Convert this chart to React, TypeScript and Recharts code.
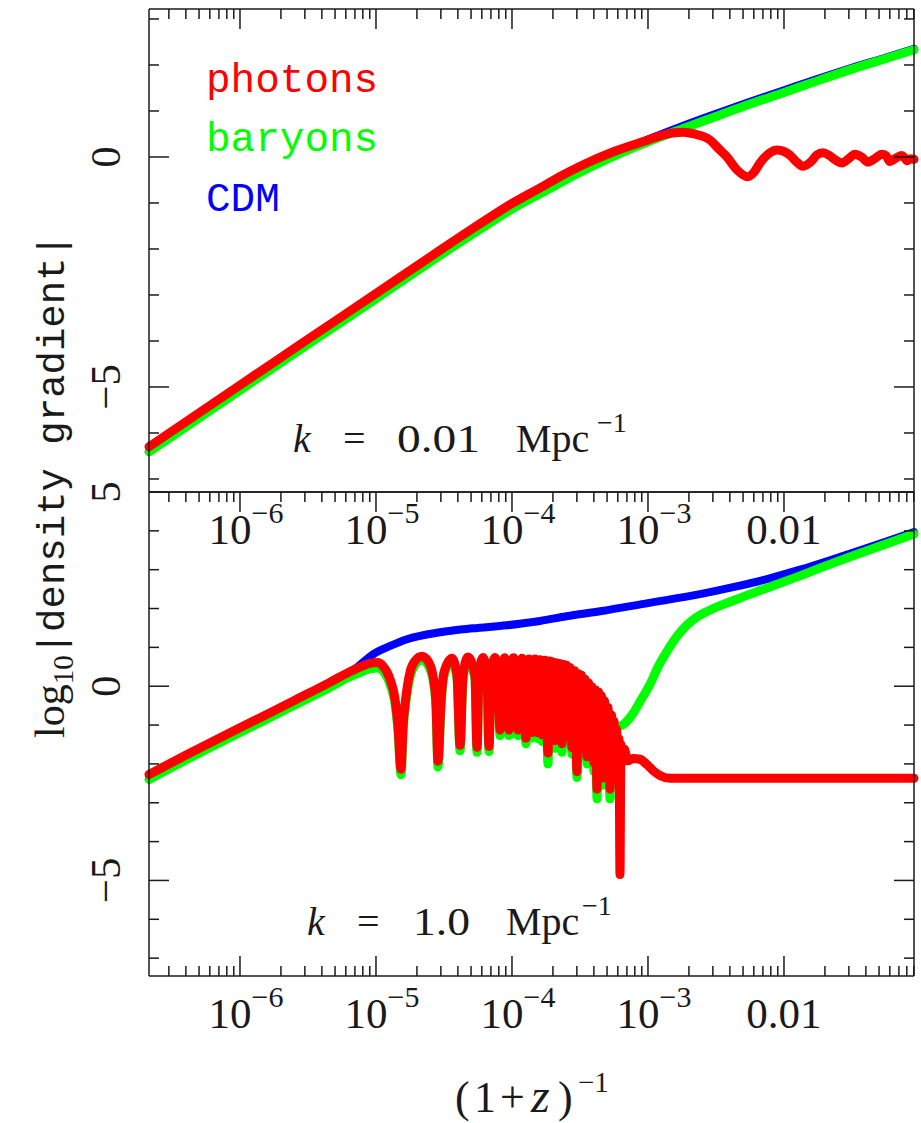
import { LineChart, Line, XAxis, YAxis } from "recharts"

const W = 921
const H = 1123
const PLOT_LEFT = 149
const PLOT_RIGHT = 914
// axes need a non-zero band to be drawn; keep it at one pixel
const BAND = 1

const RED = "#ff0000"
const GREEN = "#00ff00"
const BLUE = "#0000ff"
const INK = "#1a1a1a"
const SERIF = "'Liberation Serif', 'DejaVu Serif', serif"
const MONO = "'Liberation Mono', 'DejaVu Sans Mono', monospace"

// x is log10 of the scale factor a = (1+z)^-1
const xDomain = [-6.669, -1.044]
const xDecades = [-7, -6, -5, -4, -3, -2]
const topYDomain = [-7.283, 3.217]
const bottomYDomain = [-7.46, 5.0]
const topYTicks = [-7, -6, -5, -4, -3, -2, -1, 0, 1, 2, 3]
const bottomYTicks = [-7, -6, -5, -4, -3, -2, -1, 0, 1, 2, 3, 4, 5]
const topYLabels = [0, -5]
const bottomYLabels = [5, 0, -5]

// k = 0.01 Mpc^-1
const topPhotons: [number, number][] = [
  [-6.669, -6.3], [-6.0, -4.96], [-5.5, -3.96], [-5.0, -2.97], [-4.5, -1.97],
  [-4.25, -1.48], [-4.0, -1.01], [-3.75, -0.6], [-3.65, -0.43], [-3.5, -0.2],
  [-3.25, 0.12], [-3.0, 0.37], [-2.91, 0.46], [-2.82, 0.52], [-2.74, 0.54],
  [-2.66, 0.5], [-2.544, 0.37], [-2.48, 0.18], [-2.419, 0.0], [-2.346, -0.28],
  [-2.265, -0.43], [-2.22, -0.33], [-2.176, -0.13], [-2.103, 0.09], [-2.051, 0.15],
  [-2.0, 0.12], [-1.956, 0.04], [-1.91, -0.1], [-1.86, -0.2], [-1.8, -0.1],
  [-1.76, 0.04], [-1.713, 0.09], [-1.67, 0.04], [-1.62, -0.07], [-1.574, -0.13],
  [-1.525, -0.04], [-1.478, 0.06], [-1.43, 0.0], [-1.382, -0.11], [-1.33, -0.03],
  [-1.279, 0.06], [-1.25, 0.03], [-1.221, -0.1], [-1.18, -0.03], [-1.132, 0.03],
  [-1.11, -0.03], [-1.096, -0.08], [-1.07, -0.04], [-1.044, -0.05],
]
const topBaryons: [number, number][] = [
  [-6.669, -6.41], [-6.0, -5.07], [-5.5, -4.07], [-5.0, -3.08], [-4.5, -2.08],
  [-4.25, -1.6], [-4.0, -1.13], [-3.75, -0.73], [-3.5, -0.33], [-3.25, 0.02],
  [-3.0, 0.33], [-2.75, 0.61], [-2.5, 0.88], [-2.25, 1.15], [-2.0, 1.4],
  [-1.75, 1.66], [-1.5, 1.91], [-1.25, 2.14], [-1.044, 2.33],
]
const topCdm: [number, number][] = [
  [-6.669, -6.41], [-6.0, -5.07], [-5.5, -4.07], [-5.0, -3.08], [-4.5, -2.08],
  [-4.25, -1.6], [-4.0, -1.13], [-3.75, -0.72], [-3.5, -0.31], [-3.25, 0.05],
  [-3.0, 0.38], [-2.75, 0.67], [-2.5, 0.94], [-2.25, 1.2], [-2.0, 1.45],
  [-1.75, 1.7], [-1.5, 1.94], [-1.25, 2.16], [-1.044, 2.35],
]

// k = 1.0 Mpc^-1
const bottomPhotons: [number, number][] = [
  [-6.669, -2.27], [-6.4, -1.78], [-6.07, -1.19], [-5.8, -0.72], [-5.58, -0.33],
  [-5.35, 0.08], [-5.2, 0.36], [-5.1, 0.52], [-5.044, 0.59], [-4.99, 0.61],
  [-4.949, 0.52], [-4.897, 0.18], [-4.86, -0.33], [-4.838, -1.03], [-4.816, -2.14],
  [-4.801, -1.03], [-4.779, -0.25], [-4.75, 0.36], [-4.713, 0.65], [-4.662, 0.77],
  [-4.618, 0.65], [-4.581, 0.27], [-4.559, -0.42], [-4.544, -1.93], [-4.522, -0.42],
  [-4.5, 0.36], [-4.441, 0.72], [-4.404, 0.27], [-4.382, -1.52], [-4.36, 0.27],
  [-4.324, 0.75], [-4.272, 0.27], [-4.257, -1.57], [-4.243, 0.27], [-4.213, 0.74],
  [-4.184, 0.27], [-4.169, -1.55], [-4.154, 0.27], [-4.125, 0.74], [-4.103, 0.27],
  [-4.088, -1.13], [-4.074, 0.27], [-4.055, 0.73], [-4.037, 0.27], [-4.022, -1.13],
  [-4.007, 0.27], [-3.989, 0.73], [-3.971, 0.27], [-3.956, -1.13], [-3.941, 0.27],
  [-3.926, 0.72], [-3.897, -1.34], [-3.875, 0.7], [-3.853, -1.19], [-3.831, 0.7],
  [-3.809, -1.2], [-3.794, 0.68], [-3.779, -1.25], [-3.757, 0.67], [-3.735, -1.72],
  [-3.721, 0.65], [-3.706, -1.28], [-3.695, 0.62], [-3.684, -1.4], [-3.669, 0.6],
  [-3.654, -1.28], [-3.643, 0.58], [-3.632, -1.48], [-3.621, 0.56], [-3.61, -1.33],
  [-3.599, 0.54], [-3.588, -1.26], [-3.574, 0.48], [-3.559, -1.58], [-3.54, 0.4],
  [-3.522, -2.2], [-3.511, 0.32], [-3.5, -1.53], [-3.489, 0.28], [-3.478, -1.6],
  [-3.463, 0.18], [-3.449, -1.82], [-3.437, 0.08], [-3.426, -1.72], [-3.412, -0.02],
  [-3.397, -1.97], [-3.386, -0.1], [-3.375, -2.65], [-3.364, -0.15], [-3.353, -2.07],
  [-3.342, -0.25], [-3.331, -2.36], [-3.32, -0.38], [-3.309, -1.97], [-3.294, -0.55],
  [-3.279, -2.65], [-3.268, -0.75], [-3.257, -2.26], [-3.25, -0.9], [-3.243, -2.36],
  [-3.232, -1.1], [-3.221, -1.97], [-3.213, -1.35], [-3.206, -4.85], [-3.199, -1.5],
  [-3.191, -1.97], [-3.173, -1.62], [-3.15, -1.92], [-3.11, -1.86], [-3.06, -1.88],
  [-3.007, -2.02], [-2.96, -2.18], [-2.912, -2.3], [-2.838, -2.37], [-2.5, -2.37],
  [-2.0, -2.37], [-1.5, -2.37], [-1.044, -2.37],
]
const bottomBaryons: [number, number][] = [
  [-6.669, -2.4], [-6.4, -1.9], [-6.07, -1.31], [-5.8, -0.84], [-5.58, -0.45],
  [-5.35, -0.05], [-5.2, 0.23], [-5.1, 0.38], [-5.044, 0.45], [-4.99, 0.47],
  [-4.949, 0.39], [-4.897, 0.05], [-4.86, -0.45], [-4.838, -1.15], [-4.816, -2.28],
  [-4.801, -1.15], [-4.779, -0.37], [-4.75, 0.24], [-4.713, 0.55], [-4.662, 0.68],
  [-4.618, 0.55], [-4.581, 0.17], [-4.559, -0.52], [-4.544, -2.08], [-4.522, -0.52],
  [-4.5, 0.26], [-4.441, 0.64], [-4.404, 0.18], [-4.382, -1.66], [-4.36, 0.18],
  [-4.324, 0.66], [-4.272, 0.18], [-4.257, -1.7], [-4.243, 0.18], [-4.213, 0.65],
  [-4.184, 0.18], [-4.169, -1.68], [-4.154, 0.18], [-4.125, 0.65], [-4.103, 0.18],
  [-4.088, -1.27], [-4.074, 0.18], [-4.055, 0.64], [-4.037, 0.18], [-4.022, -1.27],
  [-4.007, 0.18], [-3.989, 0.64], [-3.971, 0.18], [-3.956, -1.27], [-3.941, 0.18],
  [-3.926, 0.64], [-3.897, -1.48], [-3.875, 0.62], [-3.853, -1.33], [-3.831, 0.62],
  [-3.809, -1.35], [-3.794, 0.6], [-3.779, -1.42], [-3.757, 0.59], [-3.735, -2.0],
  [-3.721, 0.57], [-3.706, -1.45], [-3.695, 0.54], [-3.684, -1.6], [-3.669, 0.52],
  [-3.654, -1.45], [-3.643, 0.5], [-3.632, -1.7], [-3.621, 0.48], [-3.61, -1.5],
  [-3.599, 0.46], [-3.588, -1.42], [-3.574, 0.4], [-3.559, -1.75], [-3.54, 0.32],
  [-3.522, -2.35], [-3.511, 0.24], [-3.5, -1.7], [-3.489, 0.2], [-3.478, -1.8],
  [-3.463, 0.1], [-3.449, -2.0], [-3.437, 0.0], [-3.426, -1.9], [-3.412, -0.1],
  [-3.397, -2.2], [-3.386, -0.18], [-3.375, -2.9], [-3.364, -0.23], [-3.353, -2.3],
  [-3.342, -0.33], [-3.331, -2.55], [-3.32, -0.46], [-3.309, -2.2], [-3.294, -0.63],
  [-3.279, -2.9], [-3.268, -0.9], [-3.257, -1.1], [-3.228, -1.06], [-3.169, -0.95],
  [-3.11, -0.7], [-3.051, -0.35], [-2.985, 0.05], [-2.926, 0.5], [-2.86, 0.9],
  [-2.801, 1.22], [-2.743, 1.47], [-2.68, 1.68], [-2.618, 1.83], [-2.55, 1.95],
  [-2.493, 2.04], [-2.375, 2.2], [-2.25, 2.37], [-2.125, 2.53], [-1.882, 2.84],
  [-1.64, 3.17], [-1.39, 3.49], [-1.044, 3.92],
]
const bottomCdm: [number, number][] = [
  [-6.669, -2.33], [-6.4, -1.84], [-6.07, -1.25], [-5.8, -0.77], [-5.58, -0.38],
  [-5.35, 0.03], [-5.2, 0.32], [-5.1, 0.6], [-5.022, 0.82], [-4.9, 1.03],
  [-4.772, 1.21], [-4.529, 1.39], [-4.287, 1.49], [-4.037, 1.57], [-3.794, 1.68],
  [-3.6, 1.8], [-3.353, 1.93], [-3.0, 2.14], [-2.618, 2.37], [-2.375, 2.55],
  [-2.125, 2.76], [-1.882, 3.0], [-1.64, 3.27], [-1.39, 3.56], [-1.044, 3.97],
]

// minor ticks at 2..9 times each decade
const xTicks: number[] = []
xDecades.forEach((d) => {
  for (let m = 1; m <= 9; m++) {
    const v = d + Math.log10(m)
    if (v >= xDomain[0] - 1e-9 && v <= xDomain[1] + 1e-9) xTicks.push(v)
  }
})

const toPoints = (pairs: [number, number][]) => pairs.map(([x, y]) => ({ x, y }))

const isWhole = (v: number) => Math.abs(v - Math.round(v)) < 1e-6

function XLabel({ x, y, v }: { x: number; y: number; v: number }) {
  const n = Math.round(v)
  if (n === -2) {
    return (
      <text x={x} y={y} textAnchor="middle" fontFamily={SERIF} fontSize={43} fill={INK}>
        0.01
      </text>
    )
  }
  return (
    <text x={x + 6} y={y} textAnchor="middle" fontFamily={SERIF} fontSize={43} fill={INK}>
      10
      <tspan fontSize={30} dy={-21}>{"\u2212" + Math.abs(n)}</tspan>
    </text>
  )
}

// dir: +1 marks point down, -1 point up, 0 no marks
const xTick = (dir: number, labels: boolean) => (p: any) => {
  const { x, y, payload } = p
  const v = payload.value as number
  const major = isWhole(v)
  const len = major ? 20 : 10
  return (
    <g>
      {dir !== 0 && <line x1={x} x2={x} y1={y} y2={y + dir * len} stroke={INK} strokeWidth={1.5} />}
      {labels && major && <XLabel x={x} y={y + 52} v={v} />}
    </g>
  )
}

// dir: +1 marks point right, -1 point left
const yTick = (dir: number, labels: number[]) => (p: any) => {
  const { x, y, payload } = p
  const v = payload.value as number
  const major = v % 5 === 0
  const len = major ? 20 : 10
  const bx = x - 29
  return (
    <g>
      <line x1={x} x2={x + dir * len} y1={y} y2={y} stroke={INK} strokeWidth={1.5} />
      {labels.includes(v) && (
        <text
          x={bx}
          y={y}
          transform={`rotate(-90 ${bx} ${y})`}
          textAnchor="middle"
          fontFamily={SERIF}
          fontSize={43}
          fill={INK}
        >
          {v < 0 ? "\u2212" + Math.abs(v) : String(v)}
        </text>
      )}
    </g>
  )
}

type Series = { name: string; data: [number, number][]; color: string; width: number }

function Panel(props: {
  top: number
  bottom: number
  yDomain: number[]
  yTicks: number[]
  yLabels: number[]
  bottomMarks: number
  series: Series[]
}) {
  const { top, bottom, yDomain, yTicks, yLabels, bottomMarks, series } = props
  const axisLine = { stroke: INK, strokeWidth: 1.5 }
  return (
    <div style={{ position: "absolute", left: 0, top: 0 }}>
      <LineChart
        width={W}
        height={H}
        margin={{
          top: top - BAND,
          bottom: H - bottom - BAND,
          left: PLOT_LEFT - BAND,
          right: W - PLOT_RIGHT - BAND,
        }}
      >
        <XAxis
          xAxisId="b"
          dataKey="x"
          type="number"
          domain={xDomain}
          ticks={xTicks}
          interval={0}
          height={BAND}
          tickSize={0}
          tickMargin={0}
          tickLine={false}
          axisLine={axisLine}
          tick={xTick(bottomMarks, true)}
        />
        <XAxis
          xAxisId="t"
          orientation="top"
          dataKey="x"
          type="number"
          domain={xDomain}
          ticks={xTicks}
          interval={0}
          height={BAND}
          tickSize={0}
          tickMargin={0}
          tickLine={false}
          axisLine={axisLine}
          tick={xTick(1, false)}
        />
        <YAxis
          yAxisId="l"
          type="number"
          domain={yDomain}
          ticks={yTicks}
          interval={0}
          width={BAND}
          tickSize={0}
          tickMargin={0}
          tickLine={false}
          axisLine={axisLine}
          tick={yTick(1, yLabels)}
        />
        <YAxis
          yAxisId="r"
          orientation="right"
          type="number"
          domain={yDomain}
          ticks={yTicks}
          interval={0}
          width={BAND}
          tickSize={0}
          tickMargin={0}
          tickLine={false}
          axisLine={axisLine}
          tick={yTick(-1, [])}
        />
        {/* the top and right frame axes only get drawn when a series uses them */}
        <Line
          xAxisId="t"
          yAxisId="r"
          data={toPoints(series[0].data)}
          dataKey="y"
          stroke="none"
          dot={false}
          activeDot={false}
          legendType="none"
          isAnimationActive={false}
        />
        {series.map((s) => (
          <Line
            key={s.name}
            name={s.name}
            xAxisId="b"
            yAxisId="l"
            data={toPoints(s.data)}
            dataKey="y"
            type="monotone"
            stroke={s.color}
            strokeWidth={s.width}
            strokeLinecap="round"
            strokeLinejoin="round"
            dot={false}
            activeDot={false}
            isAnimationActive={false}
          />
        ))}
      </LineChart>
    </div>
  )
}

function Labels() {
  return (
    <svg
      width={W}
      height={H}
      style={{ position: "absolute", left: 0, top: 0, pointerEvents: "none" }}
    >
      <g fontFamily={MONO} fontSize={41}>
        <text x={206} y={92} fill={RED}>photons</text>
        <text x={206} y={151} fill={GREEN}>baryons</text>
        <text x={206} y={211} fill={BLUE}>CDM</text>
      </g>

      <g fontFamily={SERIF} fontSize={40} fill={INK}>
        <text y={452}>
          <tspan x={293} fontStyle="italic">k</tspan>
          <tspan x={343}>=</tspan>
          <tspan x={397} textLength={83} lengthAdjust="spacingAndGlyphs">0.01</tspan>
          <tspan x={516}>Mpc</tspan>
          <tspan x={597} dy={-20} fontSize={28}>{"\u22121"}</tspan>
        </text>
        <text y={935}>
          <tspan x={307} fontStyle="italic">k</tspan>
          <tspan x={357}>=</tspan>
          <tspan x={413} textLength={57} lengthAdjust="spacingAndGlyphs">1.0</tspan>
          <tspan x={506}>Mpc</tspan>
          <tspan x={582} dy={-20} fontSize={28}>{"\u22121"}</tspan>
        </text>
      </g>

      <g fontFamily={SERIF} fill={INK}>
        <text y={1112} fontSize={44}>
          <tspan x={455}>(</tspan>
          <tspan x={474}>1</tspan>
          <tspan x={500}>+</tspan>
          <tspan x={531} fontStyle="italic" fontSize={48}>z</tspan>
          <tspan x={558}>)</tspan>
        </text>
        <text x={578} y={1092} fontSize={29}>{"\u22121"}</text>
      </g>

      <g transform="translate(64 486) rotate(-90)">
        <text x={0} y={0} textAnchor="middle" fill={INK}>
          <tspan fontFamily={SERIF} fontSize={42}>log</tspan>
          <tspan fontFamily={SERIF} fontSize={29} dy={9}>10</tspan>
          <tspan fontFamily={MONO} fontSize={39} dy={-9}>|density gradient|</tspan>
        </text>
      </g>
    </svg>
  )
}

export default function App() {
  return (
    <div style={{ position: "absolute", left: 0, top: 0, width: W, height: H, background: "#fff" }}>
      <Panel
        top={9}
        bottom={492}
        yDomain={topYDomain}
        yTicks={topYTicks}
        yLabels={topYLabels}
        bottomMarks={0}
        series={[
          { name: "CDM", data: topCdm, color: BLUE, width: 8 },
          { name: "baryons", data: topBaryons, color: GREEN, width: 9 },
          { name: "photons", data: topPhotons, color: RED, width: 9 },
        ]}
      />
      <Panel
        top={492}
        bottom={976}
        yDomain={bottomYDomain}
        yTicks={bottomYTicks}
        yLabels={bottomYLabels}
        bottomMarks={-1}
        series={[
          { name: "CDM", data: bottomCdm, color: BLUE, width: 8 },
          { name: "baryons", data: bottomBaryons, color: GREEN, width: 9 },
          { name: "photons", data: bottomPhotons, color: RED, width: 9 },
        ]}
      />
      <Labels />
    </div>
  )
}
